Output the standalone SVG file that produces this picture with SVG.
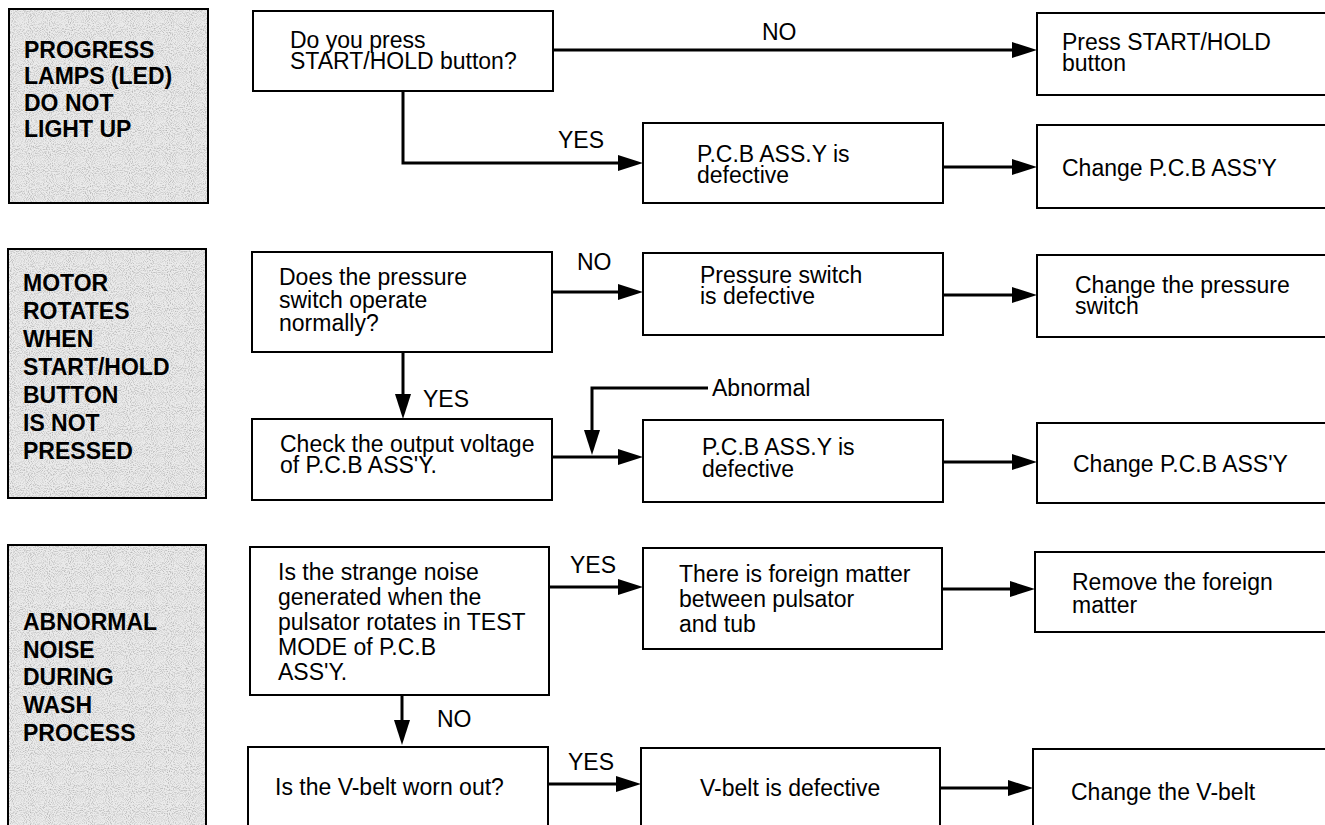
<svg xmlns="http://www.w3.org/2000/svg" width="1325" height="825" viewBox="0 0 1325 825">
  <style>
    .box { fill: #ffffff; stroke: #000000; stroke-width: 2; }
    .sym { fill: #ebebeb; }
    .sym-edge { fill: none; stroke: #000000; stroke-width: 2; }
    .t { font-family: "Liberation Sans", Arial, Helvetica, sans-serif; font-size: 23px; fill: #000000; }
    .lbl { font-family: "Liberation Sans", Arial, Helvetica, sans-serif; font-size: 23px; font-weight: bold; fill: #000000; }
    .wire { fill: none; stroke: #000000; stroke-width: 3; }
  </style>
  <defs>
    <marker id="ah" viewBox="0 0 25 16" markerWidth="25" markerHeight="16" refX="15" refY="8" orient="auto" markerUnits="userSpaceOnUse">
      <path d="M0,0 L25,8 L0,16 z" fill="#000000"/>
    </marker>
    <!-- speckled halftone grey for the symptom panels -->
    <filter id="halftone" x="0" y="0" width="100%" height="100%">
      <feTurbulence type="fractalNoise" baseFrequency="0.95" numOctaves="1" seed="7" result="noise"/>
      <feColorMatrix in="noise" type="matrix" values="0 0 0 0 0.4  0 0 0 0 0.4  0 0 0 0 0.4  2.4 0 0 0 -1.08" result="dots"/>
      <feComposite in="dots" in2="SourceAlpha" operator="in"/>
    </filter>
  </defs>

  <rect width="1325" height="825" fill="#ffffff"/>

  <!-- symptom 1 -->
  <g id="symptom-leds">
    <rect class="sym" x="9" y="9" width="199" height="194"/>
    <rect x="9" y="9" width="199" height="194" filter="url(#halftone)"/>
    <rect class="sym-edge" x="9" y="9" width="199" height="194"/>
    <text class="lbl" x="24" y="58">PROGRESS</text>
    <text class="lbl" x="24" y="84">LAMPS (LED)</text>
    <text class="lbl" x="24" y="111">DO NOT</text>
    <text class="lbl" x="24" y="137">LIGHT UP</text>
  </g>

  <!-- symptom 2 -->
  <g id="symptom-motor">
    <rect class="sym" x="8" y="249" width="198" height="249"/>
    <rect x="8" y="249" width="198" height="249" filter="url(#halftone)"/>
    <rect class="sym-edge" x="8" y="249" width="198" height="249"/>
    <text class="lbl" x="23" y="291">MOTOR</text>
    <text class="lbl" x="23" y="319">ROTATES</text>
    <text class="lbl" x="23" y="347">WHEN</text>
    <text class="lbl" x="23" y="375">START/HOLD</text>
    <text class="lbl" x="23" y="403">BUTTON</text>
    <text class="lbl" x="23" y="431">IS NOT</text>
    <text class="lbl" x="23" y="459">PRESSED</text>
  </g>

  <!-- symptom 3 -->
  <g id="symptom-noise">
    <rect class="sym" x="8" y="545" width="198" height="300"/>
    <rect x="8" y="545" width="198" height="300" filter="url(#halftone)"/>
    <rect class="sym-edge" x="8" y="545" width="198" height="300"/>
    <text class="lbl" x="23" y="630">ABNORMAL</text>
    <text class="lbl" x="23" y="658">NOISE</text>
    <text class="lbl" x="23" y="685">DURING</text>
    <text class="lbl" x="23" y="713">WASH</text>
    <text class="lbl" x="23" y="741">PROCESS</text>
  </g>

  <!-- row 1 -->
  <g id="q-start-hold">
    <rect class="box" x="253" y="11" width="300" height="80"/>
    <text class="t" x="290" y="48">Do you press</text>
    <text class="t" x="290" y="69">START/HOLD button?</text>
  </g>
  <g id="press-start-hold">
    <rect class="box" x="1037" y="13" width="300" height="82"/>
    <text class="t" x="1062" y="50">Press START/HOLD</text>
    <text class="t" x="1062" y="71">button</text>
  </g>
  <g id="pcb-defective-1">
    <rect class="box" x="643" y="123" width="300" height="80"/>
    <text class="t" x="697" y="162">P.C.B ASS.Y is</text>
    <text class="t" x="697" y="183">defective</text>
  </g>
  <g id="change-pcb-1">
    <rect class="box" x="1037" y="125" width="300" height="83"/>
    <text class="t" x="1062" y="176">Change P.C.B ASS'Y</text>
  </g>

  <!-- row 2 -->
  <g id="q-pressure-switch">
    <rect class="box" x="252" y="252" width="300" height="100"/>
    <text class="t" x="279" y="285">Does the pressure</text>
    <text class="t" x="279" y="308">switch operate</text>
    <text class="t" x="279" y="331">normally?</text>
  </g>
  <g id="pressure-switch-defective">
    <rect class="box" x="643" y="253" width="300" height="82"/>
    <text class="t" x="700" y="283">Pressure switch</text>
    <text class="t" x="700" y="304">is defective</text>
  </g>
  <g id="change-pressure-switch">
    <rect class="box" x="1037" y="255" width="300" height="82"/>
    <text class="t" x="1075" y="293">Change the pressure</text>
    <text class="t" x="1075" y="314">switch</text>
  </g>
  <g id="check-output-voltage">
    <rect class="box" x="252" y="419" width="300" height="81"/>
    <text class="t" x="280" y="452">Check the output voltage</text>
    <text class="t" x="280" y="473">of P.C.B ASS'Y.</text>
  </g>
  <g id="pcb-defective-2">
    <rect class="box" x="643" y="420" width="300" height="82"/>
    <text class="t" x="702" y="455">P.C.B ASS.Y is</text>
    <text class="t" x="702" y="477">defective</text>
  </g>
  <g id="change-pcb-2">
    <rect class="box" x="1037" y="423" width="300" height="80"/>
    <text class="t" x="1073" y="472">Change P.C.B ASS'Y</text>
  </g>

  <!-- row 3 -->
  <g id="q-strange-noise">
    <rect class="box" x="250" y="547" width="299" height="148"/>
    <text class="t" x="278" y="580">Is the strange noise</text>
    <text class="t" x="278" y="605">generated when the</text>
    <text class="t" x="278" y="630">pulsator rotates in TEST</text>
    <text class="t" x="278" y="655">MODE of P.C.B</text>
    <text class="t" x="278" y="680">ASS'Y.</text>
  </g>
  <g id="foreign-matter">
    <rect class="box" x="643" y="548" width="299" height="101"/>
    <text class="t" x="679" y="582">There is foreign matter</text>
    <text class="t" x="679" y="607">between pulsator</text>
    <text class="t" x="679" y="632">and tub</text>
  </g>
  <g id="remove-foreign-matter">
    <rect class="box" x="1035" y="552" width="300" height="80"/>
    <text class="t" x="1072" y="590">Remove the foreign</text>
    <text class="t" x="1072" y="613">matter</text>
  </g>
  <g id="q-v-belt">
    <rect class="box" x="248" y="747" width="300" height="100"/>
    <text class="t" x="275" y="795">Is the V-belt worn out?</text>
  </g>
  <g id="v-belt-defective">
    <rect class="box" x="641" y="748" width="299" height="100"/>
    <text class="t" x="700" y="796">V-belt is defective</text>
  </g>
  <g id="change-v-belt">
    <rect class="box" x="1033" y="749" width="300" height="100"/>
    <text class="t" x="1071" y="800">Change the V-belt</text>
  </g>

  <!-- connectors -->
  <g id="connectors">
    <path class="wire" d="M553,50 H1027" marker-end="url(#ah)"/>
    <text class="t" x="762" y="40">NO</text>
    <path class="wire" d="M403,91 V163 H633" marker-end="url(#ah)"/>
    <text class="t" x="558" y="148">YES</text>
    <path class="wire" d="M943,167 H1027" marker-end="url(#ah)"/>

    <path class="wire" d="M552,292 H633" marker-end="url(#ah)"/>
    <text class="t" x="577" y="270">NO</text>
    <path class="wire" d="M943,295 H1027" marker-end="url(#ah)"/>
    <path class="wire" d="M403,352 V409" marker-end="url(#ah)"/>
    <text class="t" x="423" y="407">YES</text>
    <path class="wire" d="M552,457 H633" marker-end="url(#ah)"/>
    <path class="wire" d="M708,388 H592 V445" marker-end="url(#ah)"/>
    <text class="t" x="712" y="396">Abnormal</text>
    <path class="wire" d="M943,462 H1027" marker-end="url(#ah)"/>

    <path class="wire" d="M549,587 H633" marker-end="url(#ah)"/>
    <text class="t" x="570" y="573">YES</text>
    <path class="wire" d="M942,589 H1025" marker-end="url(#ah)"/>
    <path class="wire" d="M402,695 V735" marker-end="url(#ah)"/>
    <text class="t" x="437" y="727">NO</text>
    <path class="wire" d="M548,784 H631" marker-end="url(#ah)"/>
    <text class="t" x="568" y="770">YES</text>
    <path class="wire" d="M940,788 H1023" marker-end="url(#ah)"/>
  </g>
</svg>
